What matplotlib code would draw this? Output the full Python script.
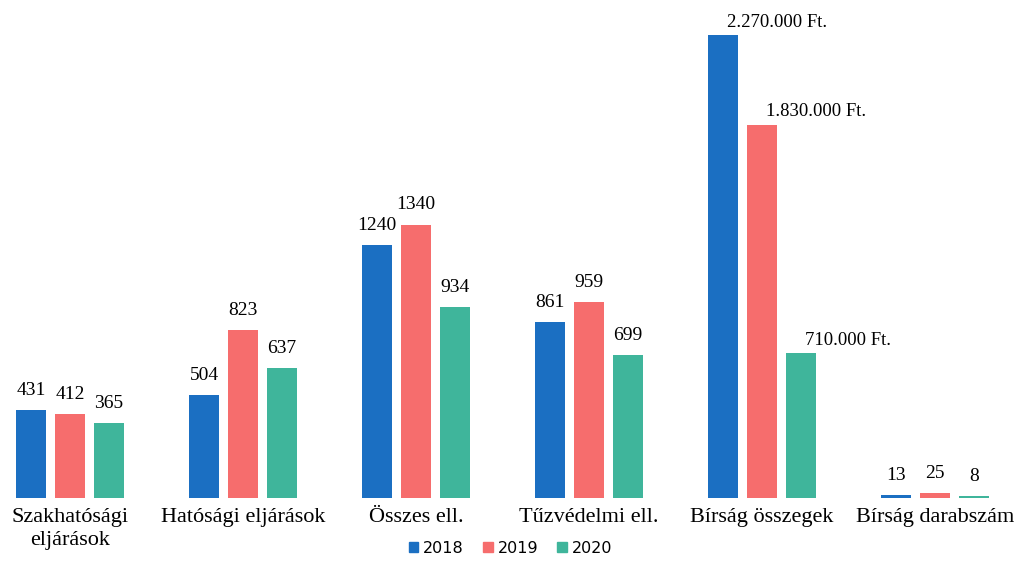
import numpy as np
import matplotlib.pyplot as plt
from matplotlib.patches import Patch

# Data (fine amounts plotted in thousand Ft)
categories = ["Szakhatósági\neljárások", "Hatósági eljárások", "Összes ell.",
              "Tűzvédelmi ell.", "Bírság összegek", "Bírság darabszám"]
years = ["2018", "2019", "2020"]
values_2018 = [431, 504, 1240, 861, 2270, 13]
values_2019 = [412, 823, 1340, 959, 1830, 25]
values_2020 = [365, 637, 934, 699, 710, 8]
labels_2018 = ["431", "504", "1240", "861", "2.270.000 Ft.", "13"]
labels_2019 = ["412", "823", "1340", "959", "1.830.000 Ft.", "25"]
labels_2020 = ["365", "637", "934", "699", "710.000 Ft.", "8"]

colors = ["#1b6fc2", "#f66d6d", "#3fb59b"]
series = [values_2018, values_2019, values_2020]
series_labels = [labels_2018, labels_2019, labels_2020]

fig = plt.figure(figsize=(10.29, 5.71), dpi=100)
ax = fig.add_axes([0, 0.128, 1, 0.872])

x = np.arange(len(categories))
width = 0.173
step = 0.225

for i, (vals, labs) in enumerate(zip(series, series_labels)):
    pos = x + (i - 1) * step
    ax.bar(pos, vals, width=width, color=colors[i])
    for p, v, lab in zip(pos, vals, labs):
        if lab.endswith("Ft."):
            ax.annotate(lab, (p, v), xytext=(3, 3), textcoords="offset points",
                        ha="left", va="bottom", fontsize=13.5,
                        family="Liberation Serif")
        else:
            ax.annotate(lab, (p, v), xytext=(0, 8), textcoords="offset points",
                        ha="center", va="bottom", fontsize=14,
                        family="Liberation Serif")

ax.set_xlim(-0.405, 5.543)
ax.set_ylim(0, 2441)
ax.set_xticks(x)
ax.set_xticklabels(categories, fontsize=16, family="Liberation Serif",
                   linespacing=1.3)
ax.tick_params(axis="x", length=0, pad=7)
ax.set_yticks([])
for s in ax.spines.values():
    s.set_visible(False)

handles = [Patch(color=c, label=y) for c, y in zip(colors, years)]
fig.legend(handles=handles, loc="center", bbox_to_anchor=(0.496, 0.04),
           ncol=3, frameon=False, fontsize=11.5, handlelength=0.6,
           handleheight=0.6, handletextpad=0.3, columnspacing=1.2)

fig.savefig("out.png", dpi=100)
